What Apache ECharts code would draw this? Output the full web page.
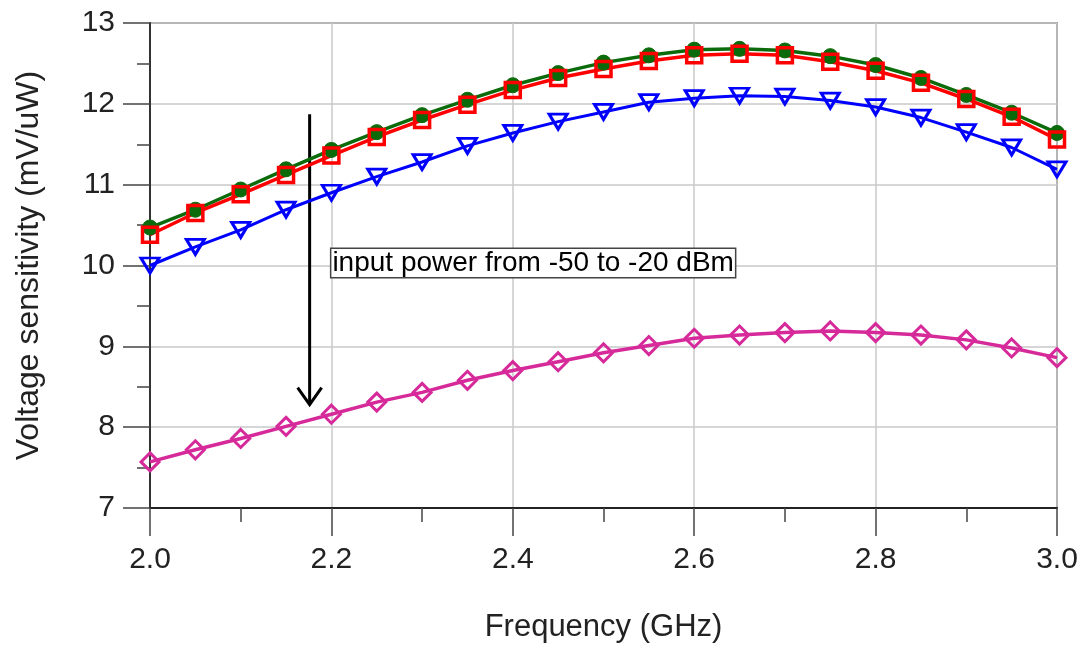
<!DOCTYPE html>
<html>
<head>
<meta charset="utf-8">
<script src="https://cdn.jsdelivr.net/npm/echarts@6/dist/echarts.min.js"></script>
<style>html,body{margin:0;padding:0;background:#fff}#c{width:1083px;height:648px}</style>
</head>
<body>
<div id="c"></div>
<script>
const freq = [2.00,2.05,2.10,2.15,2.20,2.25,2.30,2.35,2.40,2.45,2.50,2.55,2.60,2.65,2.70,2.75,2.80,2.85,2.90,2.95,3.00];
const green = [10.47,10.69,10.94,11.19,11.43,11.65,11.86,12.05,12.23,12.38,12.51,12.60,12.67,12.68,12.66,12.59,12.48,12.32,12.11,11.89,11.64];
const red = [10.38,10.65,10.88,11.12,11.36,11.59,11.80,11.99,12.17,12.32,12.43,12.53,12.60,12.62,12.60,12.52,12.41,12.26,12.06,11.84,11.56];
const blue = [10.00,10.23,10.44,10.69,10.90,11.10,11.28,11.48,11.64,11.78,11.90,12.02,12.07,12.10,12.09,12.04,11.96,11.83,11.65,11.46,11.19];
const magenta = [7.57,7.72,7.86,8.01,8.16,8.31,8.43,8.58,8.70,8.81,8.92,9.01,9.10,9.14,9.17,9.19,9.17,9.14,9.08,8.98,8.86];
const arrow = [[2.176, 11.87, 8.28]];
const note = [[2.2, 10.03, 'input power from -50 to -20 dBm']];
const xTicks = ['2.0','2.2','2.4','2.6','2.8','3.0'];

const pairs = ys => freq.map((f, i) => [f, ys[i]]);
const FONT = 'Liberation Sans, Arial, sans-serif';

const chart = echarts.init(document.getElementById('c'));
chart.setOption({
  animation: false,
  grid: { left: 150, right: 26, top: 23, bottom: 139, show: true, borderColor: '#555', borderWidth: 1.5, backgroundColor: 'transparent' },
  xAxis: {
    type: 'value', min: 2, max: 3, interval: 0.2,
    name: 'Frequency (GHz)', nameLocation: 'middle', nameGap: 104,
    nameTextStyle: { fontFamily: FONT, fontSize: 31, color: '#222' },
    axisLine: { lineStyle: { color: '#222', width: 2 } },
    axisTick: { show: true, length: 28, lineStyle: { color: '#444', width: 1.5 } },
    minorTick: { show: true, splitNumber: 2, length: 14, lineStyle: { color: '#444', width: 1.5 } },
    splitLine: { show: true, lineStyle: { color: '#c8c8c8', width: 1.5 } },
    axisLabel: { margin: 37, fontFamily: FONT, fontSize: 30, color: '#222',
      formatter: v => xTicks[Math.round((v - 2) / 0.2)] }
  },
  yAxis: {
    type: 'value', min: 7, max: 13, interval: 1,
    name: 'Voltage sensitivity (mV/uW)', nameLocation: 'middle', nameGap: 105,
    nameTextStyle: { fontFamily: FONT, fontSize: 32, color: '#222' },
    axisLine: { lineStyle: { color: '#333', width: 2 } },
    axisTick: { show: true, length: 27, lineStyle: { color: '#444', width: 1.5 } },
    minorTick: { show: true, splitNumber: 2, length: 13, lineStyle: { color: '#444', width: 1.5 } },
    splitLine: { show: true, lineStyle: { color: '#c8c8c8', width: 1.5 } },
    axisLabel: { margin: 35, fontFamily: FONT, fontSize: 30, color: '#222' }
  },
  series: [
    { type: 'line', data: pairs(green), symbol: 'circle', symbolSize: 15,
      lineStyle: { color: '#0b6b0b', width: 3.5 }, itemStyle: { color: '#0b6b0b', borderColor: '#0b6b0b', borderWidth: 1 } },
    { type: 'line', data: pairs(red), symbol: 'rect', symbolSize: 15,
      lineStyle: { color: '#ff0000', width: 3.5 }, itemStyle: { color: 'rgba(0,0,0,0)', borderColor: '#ff0000', borderWidth: 3.5 } },
    { type: 'line', data: pairs(blue), symbol: 'triangle', symbolRotate: 180, symbolSize: [18, 15],
      lineStyle: { color: '#0000ff', width: 3 }, itemStyle: { color: 'rgba(0,0,0,0)', borderColor: '#0000ff', borderWidth: 3 } },
    { type: 'line', data: pairs(magenta), symbol: 'diamond', symbolSize: [18, 18],
      lineStyle: { color: '#d62a9a', width: 3.5 }, itemStyle: { color: 'rgba(0,0,0,0)', borderColor: '#d62a9a', borderWidth: 3 } },
    { type: 'custom', data: arrow, silent: true, clip: false,
      renderItem: (params, api) => {
        const p1 = api.coord([api.value(0), api.value(1)]);
        const p2 = api.coord([api.value(0), api.value(2)]);
        return { type: 'group', children: [
          { type: 'line', shape: { x1: p1[0], y1: p1[1], x2: p2[0], y2: p2[1] }, style: { stroke: '#000', lineWidth: 3 } },
          { type: 'polyline', shape: { points: [[p2[0] - 12, p2[1] - 17], [p2[0], p2[1]], [p2[0] + 12, p2[1] - 17]] }, style: { stroke: '#000', lineWidth: 3, fill: null } }
        ]};
      } },
    { type: 'custom', data: note, silent: true, clip: false,
      renderItem: (params, api) => {
        const p = api.coord([api.value(0), api.value(1)]);
        return { type: 'text', x: p[0], y: p[1], style: {
          text: note[params.dataIndex][2], font: '28px ' + FONT, fill: '#000',
          verticalAlign: 'middle', align: 'left',
          backgroundColor: '#fff', borderColor: '#444', borderWidth: 1.5, padding: [0, 1, 0, 1] } };
      } }
  ]
});
</script>
</body>
</html>
